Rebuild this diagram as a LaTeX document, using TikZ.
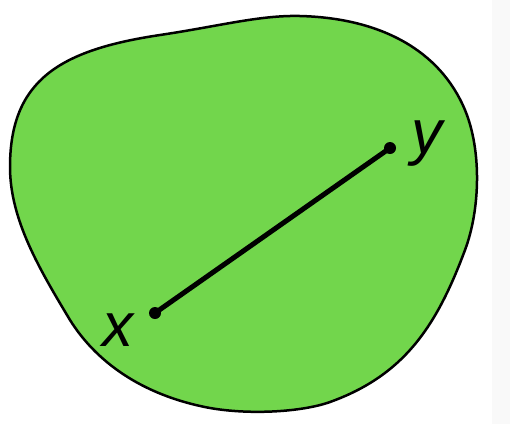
\documentclass[tikz,border=0pt]{standalone}
\usepackage{fontspec}
\setsansfont{Liberation Sans}
\usepackage{tikz}
\definecolor{blobgreen}{RGB}{114,214,76}
\definecolor{stripgray}{RGB}{249,249,249}

\begin{document}
\begin{tikzpicture}[x=1pt, y=-1pt,
  every node/.style={font=\sffamily\itshape\fontsize{62}{62}\selectfont},
  dot/.style={circle, fill=black, inner sep=0pt, minimum size=12pt}]
  \useasboundingbox (0,0) rectangle (510,424);
  \fill[stripgray] (492,0) rectangle (510,424);
  \draw[line width=2.5pt, fill=blobgreen] (10,167)
    .. controls (10,80) and (60,50) .. (160,35)
    .. controls (220,26) and (260,15) .. (300,16)
    .. controls (380,18) and (440,50) .. (465,110)
    .. controls (482,151) and (480,210) .. (465,250)
    .. controls (437,325) and (405,375) .. (330,402)
    .. controls (302,412) and (250,415) .. (210,408)
    .. controls (140,395) and (95,360) .. (70,320)
    .. controls (40,270) and (10,220) .. (10,167) -- cycle;
  \node[dot] (px) at (155,313) {};
  \node[dot] (py) at (390,148) {};
  \draw[line width=5pt] (px.center) -- (py.center);
  \node (lx) at (118,330) {x};
  \node (ly) at (427,144) {y};
\end{tikzpicture}
\end{document}
